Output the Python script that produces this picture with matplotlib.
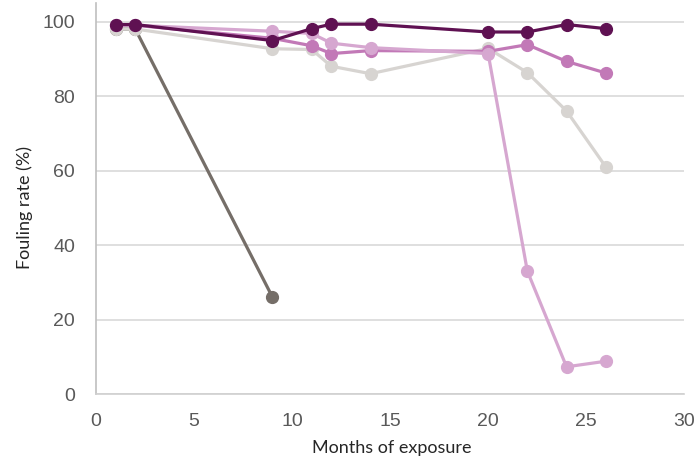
import matplotlib.pyplot as plt

# months of exposure and fouling rate (%) per series
months_short = [1, 2, 9]
series_a = [98, 98, 26]

months = [1, 2, 9, 11, 12, 14, 20, 22, 24, 26]
series_b = [98, 98, 92.7, 92.5, 88, 86, 92.8, 86.3, 76, 61]
series_c = [99, 99, 95.5, 93.5, 91.4, 92.2, 92, 93.8, 89.3, 86.2]
series_d = [99, 99, 97.4, 96.8, 94.2, 93, 91.4, 33, 7.3, 8.8]
series_e = [99.2, 99.2, 94.9, 98.1, 99.3, 99.3, 97.2, 97.2, 99.2, 98.1]

fig = plt.figure(figsize=(6.96, 4.59), dpi=100)
ax = fig.add_axes([0.138, 0.1416, 0.845, 0.852])

style = dict(linewidth=2.3, marker="o", markersize=8.5)
ax.plot(months_short, series_a, color="#756e68", **style, zorder=3)
ax.plot(months, series_b, color="#d7d4d1", **style, zorder=3)
ax.plot(months, series_c, color="#c279b7", **style, zorder=4)
ax.plot(months, series_d, color="#d6a7d0", **style, zorder=5)
ax.plot(months, series_e, color="#5f1152", **style, zorder=6)

ax.set_xlim(0, 30)
ax.set_ylim(0, 105)
ax.set_xticks(range(0, 31, 5))
ax.set_yticks(range(0, 101, 20))
ax.yaxis.grid(True, color="#d9d9d9", linewidth=1.2)
ax.set_axisbelow(True)

for side in ["top", "right"]:
    ax.spines[side].set_visible(False)
ax.spines["left"].set_color("#bfbfbf")
ax.spines["bottom"].set_color("#d0d0d0")
ax.spines["left"].set_linewidth(1.2)
ax.spines["bottom"].set_linewidth(1.2)
ax.tick_params(length=0, labelsize=14, labelcolor="#595959")
ax.tick_params(axis="x", pad=14)
ax.tick_params(axis="y", pad=15)
for lbl in ax.get_xticklabels() + ax.get_yticklabels():
    lbl.set_family("Liberation Sans")

ax.set_xlabel("Months of exposure", fontsize=13, family="Lato", color="#262626")
ax.set_ylabel("Fouling rate (%)", fontsize=13, family="Lato", color="#262626")
ax.xaxis.set_label_coords(0.503, -0.118)
ax.yaxis.set_label_coords(-0.108, 0.476)

fig.savefig("out.png", dpi=100)
